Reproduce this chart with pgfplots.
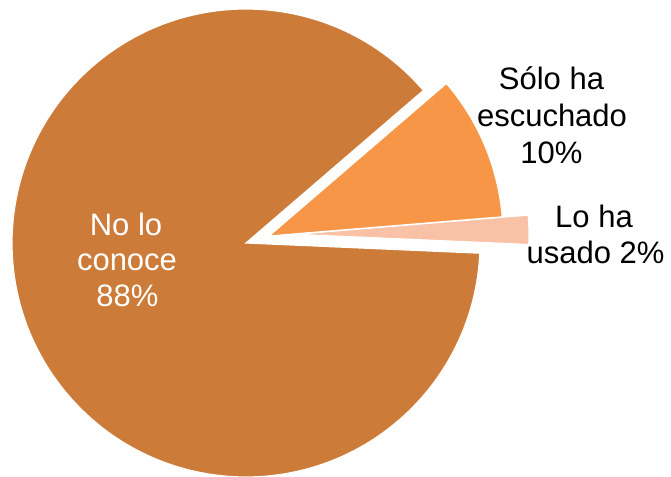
\documentclass[border=0pt]{standalone}
\usepackage{fontspec}
\setmainfont{Liberation Sans}
\usepackage{pgfplots}
\usepackage{pgfplotstable}
\pgfplotsset{compat=1.18}
\definecolor{cNo}{RGB}{204,123,57}
\definecolor{cSolo}{RGB}{247,150,70}
\definecolor{cUso}{RGB}{249,193,166}

% value in percent, explosion offset (dx,dy) of each slice
\pgfplotstableread{
label value dx dy
uso   2    49  8.7
solo  10   23  7
no    88   0   0
}\piedata

\begin{document}
\begin{tikzpicture}
\useasboundingbox (0,0) rectangle (671pt,476pt);
\clip (0,0) rectangle (671pt,476pt);
\pgfplotstablegetelem{0}{value}\of\piedata \pgfmathsetmacro\vA{\pgfplotsretval}
\pgfplotstablegetelem{1}{value}\of\piedata \pgfmathsetmacro\vB{\pgfplotsretval}
\pgfplotstablegetelem{2}{value}\of\piedata \pgfmathsetmacro\vC{\pgfplotsretval}
\pgfplotstablegetelem{0}{dx}\of\piedata \pgfmathsetmacro\xA{246+\pgfplotsretval}
\pgfplotstablegetelem{0}{dy}\of\piedata \pgfmathsetmacro\yA{233+\pgfplotsretval}
\pgfplotstablegetelem{1}{dx}\of\piedata \pgfmathsetmacro\xB{246+\pgfplotsretval}
\pgfplotstablegetelem{1}{dy}\of\piedata \pgfmathsetmacro\yB{233+\pgfplotsretval}
\pgfplotstablegetelem{2}{dx}\of\piedata \pgfmathsetmacro\xC{246+\pgfplotsretval}
\pgfplotstablegetelem{2}{dy}\of\piedata \pgfmathsetmacro\yC{233+\pgfplotsretval}
\pgfmathsetmacro\aA{-2.5}
\pgfmathsetmacro\aB{\aA+3.6*\vA}
\pgfmathsetmacro\aC{\aB+3.6*\vB}
\pgfmathsetmacro\aD{\aC+3.6*\vC}
\def\R{234pt}
\begin{axis}[
  x=1pt, y=1pt,
  xmin=0, xmax=671, ymin=0, ymax=476,
  hide axis, clip=false,
  at={(0,0)}, anchor=origin,
]
% No lo conoce
\fill[cNo, draw=white, line width=1.2pt] (axis cs:\xC,\yC) -- ++(\aC:\R)
   arc[start angle=\aC, end angle=\aD, radius=\R] -- cycle;
% Lo ha usado
\fill[cUso, draw=white, line width=1.2pt] (axis cs:\xA,\yA) -- ++(\aA:\R)
   arc[start angle=\aA, end angle=\aB, radius=\R] -- cycle;
% Solo ha escuchado
\fill[cSolo, draw=white, line width=1.2pt] (axis cs:\xB,\yB) -- ++(\aB:\R)
   arc[start angle=\aB, end angle=\aC, radius=\R] -- cycle;

\begin{scope}[every node/.style={font=\fontsize{31}{36.5}\selectfont, anchor=base, inner sep=0pt}]
\node[text=white] at (axis cs:126,240.3) {No lo};
\node[text=white] at (axis cs:127,205) {conoce};
\node[text=white] at (axis cs:127.5,169.3) {88\%};
\node at (axis cs:551.5,386.7) {Sólo ha};
\node at (axis cs:552,349) {escuchado};
\node at (axis cs:551.5,312) {10\%};
\node at (axis cs:594,248) {Lo ha};
\node at (axis cs:595.5,212) {usado 2\%};
\end{scope}
\end{axis}
\end{tikzpicture}
\end{document}
